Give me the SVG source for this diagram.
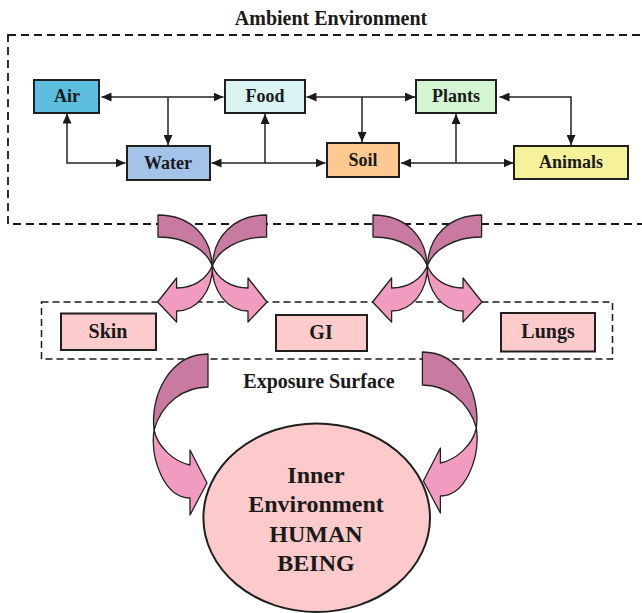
<svg xmlns="http://www.w3.org/2000/svg" xmlns:xlink="http://www.w3.org/1999/xlink" width="642" height="613" viewBox="0 0 642 613">
  <style>
    text { font-family: "Liberation Serif", "Times New Roman", serif; font-weight: bold; fill: #1a1a1a; text-anchor: middle; }
    .lbl { font-size: 18px; }
    .exp { font-size: 20px; }
    .core { font-size: 24px; }
    .box { stroke: #1f1f1f; stroke-width: 2; }
    .link { fill: none; stroke: #222; stroke-width: 1.5; }
    .frame { fill: none; stroke: #1a1a1a; }
    .dark { fill: #c97aa0; stroke: #222; stroke-width: 1.3; stroke-linejoin: round; }
    .light { fill: #f29bc1; stroke: #222; stroke-width: 1.3; stroke-linejoin: round; }
  </style>
  <defs>
    <marker id="tip" markerUnits="userSpaceOnUse" markerWidth="10" markerHeight="9" viewBox="0 0 10 9" refX="10" refY="4.5" orient="auto-start-reverse">
      <path d="M0,0 L10,4.5 L0,9 Z" fill="#1a1a1a"/>
    </marker>
    <!-- pair of crossing S-shaped arrows -->
    <g id="crossPair">
      <g id="sArrow">
        <path class="dark" d="M158,215 C191,215 211,237 212,265 C206,250 186,237 158,237 Z"/>
        <path class="light" d="M212,265 C212,292 228,311 248,311 L248,322 L267,302 L248,278 L248,288 C232,288 218,280 212,265 Z"/>
      </g>
      <use xlink:href="#sArrow" transform="translate(424.6,0) scale(-1,1)"/>
    </g>
  </defs>

  <rect width="642" height="613" fill="#ffffff"/>

  <!-- ambient environment frame -->
  <text x="331" y="25" style="font-size:20px">Ambient Environment</text>
  <rect class="frame" x="8" y="35" width="640" height="189" stroke-width="1.8" stroke-dasharray="8 5"/>

  <!-- links between environment components -->
  <g id="connectors">
    <path class="link" d="M101.5,97 H223.5" marker-start="url(#tip)" marker-end="url(#tip)"/>
    <path class="link" d="M168,97 V145" marker-end="url(#tip)"/>
    <path class="link" d="M67,113.5 V163 H125.5" marker-start="url(#tip)" marker-end="url(#tip)"/>
    <path class="link" d="M306.5,97 H415" marker-start="url(#tip)" marker-end="url(#tip)"/>
    <path class="link" d="M362,97 V142" marker-end="url(#tip)"/>
    <path class="link" d="M211.5,163 H325.5" marker-start="url(#tip)" marker-end="url(#tip)"/>
    <path class="link" d="M265,163 V114" marker-end="url(#tip)"/>
    <path class="link" d="M401,163 H513.5" marker-start="url(#tip)" marker-end="url(#tip)"/>
    <path class="link" d="M456,163 V114" marker-end="url(#tip)"/>
    <path class="link" d="M499.5,97 H571 V145" marker-start="url(#tip)" marker-end="url(#tip)"/>
  </g>

  <g id="air">
    <rect class="box" x="34" y="80" width="65" height="33" fill="#5dbee0"/>
    <text class="lbl" x="67" y="102">Air</text>
  </g>
  <g id="food">
    <rect class="box" x="225" y="80" width="80" height="33" fill="#d9f4f3"/>
    <text class="lbl" x="265" y="102">Food</text>
  </g>
  <g id="plants">
    <rect class="box" x="416" y="80" width="80" height="33" fill="#d3f5d2"/>
    <text class="lbl" x="456" y="102">Plants</text>
  </g>
  <g id="water">
    <rect class="box" x="127" y="146" width="83" height="34" fill="#a4c3e8"/>
    <text class="lbl" x="168" y="169">Water</text>
  </g>
  <g id="soil">
    <rect class="box" x="327" y="143" width="72" height="34" fill="#fcc990"/>
    <text class="lbl" x="363" y="166">Soil</text>
  </g>
  <g id="animals">
    <rect class="box" x="514" y="146" width="114" height="33" fill="#f6f29c"/>
    <text class="lbl" x="571" y="168">Animals</text>
  </g>

  <!-- exposure surface frame -->
  <rect class="frame" x="41.5" y="302" width="571" height="57" stroke-width="1.5" stroke-dasharray="7 4"/>
  <g id="skin">
    <rect class="box" x="61" y="313.5" width="95" height="36.5" fill="#fccccc"/>
    <text class="exp" x="108" y="338">Skin</text>
  </g>
  <g id="gi">
    <rect class="box" x="276" y="315" width="91" height="36" fill="#fccccc"/>
    <text class="exp" x="321" y="339">GI</text>
  </g>
  <g id="lungs">
    <rect class="box" x="501" y="313" width="94" height="38.5" fill="#fccccc"/>
    <text class="exp" x="548" y="338">Lungs</text>
  </g>
  <text class="exp" x="319" y="388">Exposure Surface</text>

  <!-- crossing arrows from environment to exposure surface -->
  <g id="uptake">
    <use xlink:href="#crossPair"/>
    <use xlink:href="#crossPair" x="215"/>
  </g>

  <!-- inner environment -->
  <g id="human">
    <ellipse cx="316.7" cy="517.7" rx="113.3" ry="94.3" fill="#fccaca" stroke="#1f1f1f" stroke-width="2"/>
    <text class="core" x="316" y="483">Inner</text>
    <text class="core" x="316" y="512">Environment</text>
    <text class="core" x="316" y="542">HUMAN</text>
    <text class="core" x="316" y="571">BEING</text>
  </g>

  <!-- curved arrows into the inner environment -->
  <g id="absorption">
    <g id="uTurn">
      <path class="dark" d="M208,354 L208,387 C185,387 162,402 154,430 C150,395 170,354 208,354 Z"/>
      <path class="light" d="M154,430 C150,460 165,498 190,498 L190,515 L207,483 L190,450 L190,465 C175,462 158,448 154,430 Z"/>
    </g>
    <use xlink:href="#uTurn" transform="translate(630.4,-2) scale(-1,1)"/>
  </g>
</svg>
